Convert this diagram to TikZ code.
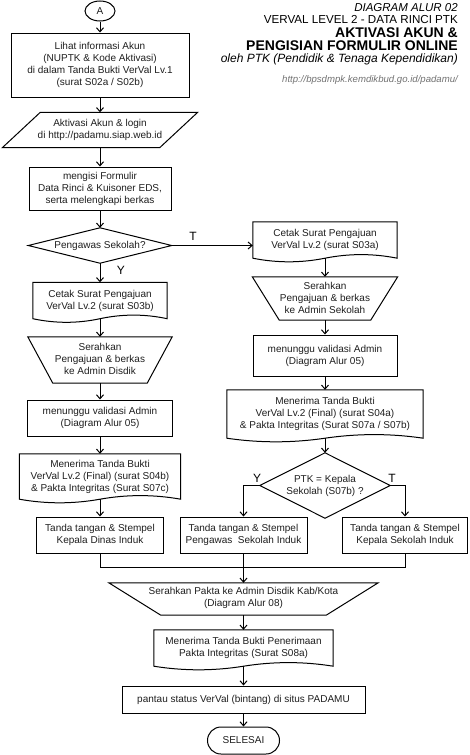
\documentclass[tikz,border=0pt]{standalone}
\usepackage{fontspec}
\setmainfont{Liberation Sans}
\usetikzlibrary{arrows.meta,calc,shapes.geometric}
\begin{document}
\begin{tikzpicture}[x=1pt,y=-1pt,
  lw/.style={line width=1pt},
  txt/.style={font=\fontsize{10}{12}\selectfont, align=center, inner sep=0pt, text=black!88},
  shp/.style args={#1x#2}{minimum width=#1pt, minimum height=#2pt, inner sep=0pt, draw=none},
  rbox/.style args={#1x#2}{shp=#1x#2, draw, lw, txt},
  conn/.style={lw, -{Straight Barb[length=4pt,width=7pt]}},
  lab/.style={font=\fontsize{12}{14}\selectfont, inner sep=0pt},
  ttl/.style={anchor=base east, inner sep=0pt},
]
\useasboundingbox (0,0) rectangle (469,755);
\fill[white] (0,0) rectangle (469,755);

% ---------- title ----------
\node[ttl, font=\fontsize{11.5}{13}\selectfont\itshape] (t1) at (458,11) {DIAGRAM ALUR 02};
\node[ttl, font=\fontsize{11.6}{13}\selectfont] (t2) at (458,23) {VERVAL LEVEL 2 - DATA RINCI PTK};
\node[ttl, font=\fontsize{14}{16}\selectfont\bfseries] (t3) at (458,37) {AKTIVASI AKUN \&};
\node[ttl, font=\fontsize{14}{16}\selectfont\bfseries] (t4) at (458,50) {PENGISIAN FORMULIR ONLINE};
\node[ttl, font=\fontsize{12}{14}\selectfont\itshape] (t5) at (458,62) {oleh PTK (Pendidik \& Tenaga Kependidikan)};
\node[ttl, font=\fontsize{9.6}{12}\selectfont\itshape, text=black!55] (t6) at (458,82) {http://bpsdmpk.kemdikbud.go.id/padamu/};

% ---------- left column ----------
\node[ellipse, draw, lw, minimum width=30pt, minimum height=20pt, inner sep=0pt, txt] (A) at (100,11) {A};
\node[rbox=178x64] (b1) at (100,65) {Lihat informasi Akun\\(NUPTK \& Kode Aktivasi)\\di dalam Tanda Bukti VerVal Lv.1\\(surat S02a / S02b)};
\node[shp=195x35] (para) at (100,130) {};
\node[txt] (parat) at (100,130) {Aktivasi Akun \& login\\di http://padamu.siap.web.id};
\node[rbox=142x43] (b3) at (100,188.5) {mengisi Formulir\\Data Rinci \& Kuisoner EDS,\\serta melengkapi berkas};
\node[shp=143x35] (dia1) at (100,245.5) {};
\node[txt] (dia1t) at (100,245.5) {Pengawas Sekolah?};
\node[shp=134x40] (doc1) at (100,302.5) {};
\node[txt] (doc1t) at (100,300.5) {Cetak Surat Pengajuan\\VerVal Lv.2 (surat S03b)};
\node[shp=144x46] (trap1) at (100,360) {};
\node[txt] (trap1t) at (100,359) {Serahkan\\Pengajuan \& berkas\\ke Admin Disdik};
\node[rbox=145x36] (b4) at (100,418) {menunggu validasi Admin\\(Diagram Alur 05)};
\node[shp=161x49] (doc2) at (100,478.5) {};
\node[txt] (doc2t) at (100,476.5) {Menerima Tanda Bukti\\VerVal Lv.2 (Final) (surat S04b)\\\& Pakta Integritas (Surat S07c)};
\node[rbox=127x36] (b5) at (100,535) {Tanda tangan \& Stempel\\Kepala Dinas Induk};

% ---------- right column ----------
\node[shp=144x40] (doc3) at (325,242) {};
\node[txt] (doc3t) at (325,240) {Cetak Surat Pengajuan\\VerVal Lv.2 (surat S03a)};
\node[shp=145x43] (trap2) at (325,298.5) {};
\node[txt] (trap2t) at (325,297.5) {Serahkan\\Pengajuan \& berkas\\ke Admin Sekolah};
\node[rbox=144x41] (b6) at (325,355.5) {menunggu validasi Admin\\(Diagram Alur 05)};
\node[shp=196x52] (doc4) at (325,416) {};
\node[txt] (doc4t) at (325,413.5) {Menerima Tanda Bukti\\VerVal Lv.2 (Final) (surat S04a)\\\& Pakta Integritas (Surat S07a / S07b)};
\node[shp=130x65] (dia2) at (325,485.5) {};
\node[txt] (dia2t) at (325,485.5) {PTK = Kepala\\Sekolah (S07b) ?};
\node[rbox=127x36] (b7) at (243.5,535) {Tanda tangan \& Stempel\\Pengawas\ \ Sekolah Induk};
\node[rbox=125x36] (b8) at (405,535) {Tanda tangan \& Stempel\\Kepala Sekolah Induk};

% ---------- bottom ----------
\node[shp=269x32] (trap3) at (243.5,599) {};
\node[txt] (trap3t) at (243.5,598) {Serahkan Pakta ke Admin Disdik Kab/Kota\\(Diagram Alur 08)};
\node[shp=179x40] (doc5) at (243.5,650) {};
\node[txt] (doc5t) at (243.5,648) {Menerima Tanda Bukti Penerimaan\\Pakta Integritas (Surat S08a)};
\node[rbox=243x27] (b9) at (243.5,699.5) {pantau status VerVal (bintang) di situs PADAMU};
\node[rbox=72x27, rounded corners=13.5pt] (e) at (243.5,740.5) {SELESAI};

% ---------- outlines ----------
\draw[lw] ([xshift=38pt]para.north west) -- (para.north east) -- ([xshift=-38pt]para.south east) -- (para.south west) -- cycle;
\foreach \d in {dia1,dia2}
  \draw[lw] (\d.north) -- (\d.east) -- (\d.south) -- (\d.west) -- cycle;
\draw[lw] (trap1.north west) -- (trap1.north east) -- ([xshift=-25pt]trap1.south east) -- ([xshift=25pt]trap1.south west) -- cycle;
\draw[lw] (trap2.north west) -- (trap2.north east) -- ([xshift=-27pt]trap2.south east) -- ([xshift=27pt]trap2.south west) -- cycle;
\draw[lw] (trap3.north west) -- (trap3.north east) -- ([xshift=-52pt]trap3.south east) -- ([xshift=52pt]trap3.south west) -- cycle;
\foreach \d in {doc1,doc2,doc3,doc4,doc5}
  \draw[lw] let \p1=(\d.south west), \p2=(\d.north east),
      \p3=($(\d.south west)!0.16667!(\d.south east)$),
      \p4=($(\d.south west)!0.33333!(\d.south east)$),
      \p5=($(\d.south west)!0.66667!(\d.south east)$),
      \p6=($(\d.south west)!0.83333!(\d.south east)$),
      \p7=(\d.south) in
    (\x1,\y2) -- (\x2,\y2) -- (\x2,\y1+4pt)
    .. controls (\x6,\y1+8.8pt) and (\x5,\y1+8.8pt) .. (\x7,\y1+4pt)
    .. controls (\x4,\y1-0.8pt) and (\x3,\y1-0.8pt) .. (\x1,\y1+4pt) -- cycle;

% ---------- connectors ----------
\draw[conn] (A.south) -- (b1.north);
\draw[conn] (b1.south) -- (para.north);
\draw[conn] (para.south) -- (b3.north);
\draw[conn] (b3.south) -- (dia1.north);
\draw[conn] (dia1.south) -- (doc1.north);
\draw[conn] (dia1.east) -- (dia1.east -| doc3.west);
\draw[conn] ([yshift=4pt]doc1.south) -- (trap1.north);
\draw[conn] (trap1.south) -- (b4.north);
\draw[conn] (b4.south) -- (doc2.north);
\draw[conn] ([yshift=4pt]doc2.south) -- (b5.north);
\draw[conn] ([yshift=4pt]doc3.south) -- (trap2.north);
\draw[conn] (trap2.south) -- (b6.north);
\draw[conn] (b6.south) -- (doc4.north);
\draw[conn] ([yshift=4pt]doc4.south) -- (dia2.north);
\draw[conn] (dia2.west) -| (b7.north);
\draw[conn] (dia2.east) -| (b8.north);
\coordinate (m) at (243.5,567);
\draw[lw] (b5.south) |- (m);
\draw[lw] (b8.south) |- (m);
\draw[conn] (b7.south) -- (trap3.north);
\draw[conn] (trap3.south) -- (doc5.north);
\draw[conn] ([yshift=4pt]doc5.south) -- (b9.north);
\draw[conn] (b9.south) -- (e.north);

% ---------- labels ----------
\node[lab] (lT1) at (193,236) {T};
\node[lab] (lY1) at (121,270) {Y};
\node[lab] (lY2) at (257,478) {Y};
\node[lab] (lT2) at (392,478) {T};
\end{tikzpicture}
\end{document}
